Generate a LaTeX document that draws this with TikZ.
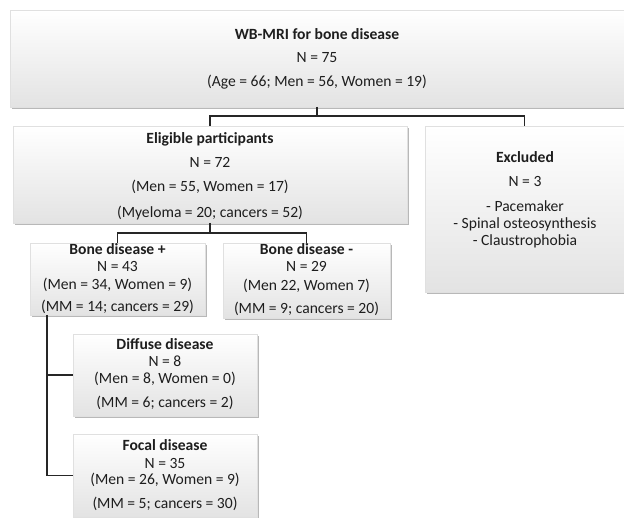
\documentclass[tikz,border=0pt]{standalone}
\usepackage{fontspec}
\setmainfont{Carlito}
\usetikzlibrary{shadows,calc}
\definecolor{txtc}{HTML}{1E1E1E}
\tikzset{
  box/.style={rectangle, inner sep=0pt, outer sep=0pt, draw=black!12, line width=0.4pt,
    top color=white, bottom color=black!11,
    drop shadow={shadow xshift=1.6pt, shadow yshift=-2.2pt, fill=black, opacity=0.28}},
  txt/.style={anchor=base, inner sep=0pt, outer sep=0pt, text=txtc,
    font=\fontsize{15.6}{18}\selectfont},
  ttl/.style={txt, font=\fontsize{15.6}{18}\selectfont\bfseries},
  conn/.style={draw=black!85, line width=1.1pt}
}
\begin{document}
\begin{tikzpicture}[x=1pt,y=1pt]
\useasboundingbox (0,0) rectangle (624,-518);
% boxes
\node[box, minimum width=614, minimum height=97] (top) at (317,-58.5) {};
\node[box, minimum width=394, minimum height=97] (elig) at (210,-174.5) {};
\node[box, minimum width=199, minimum height=166] (excl) at (524.5,-209) {};
\node[box, minimum width=175, minimum height=72] (bplus) at (117.5,-279) {};
\node[box, minimum width=167, minimum height=75] (bminus) at (306.5,-280.5) {};
\node[box, minimum width=184, minimum height=82] (diff) at (165,-375) {};
\node[box, minimum width=184, minimum height=83] (focal) at (165,-475.5) {};
% top text
\node[ttl] (top1) at (317,-40) {WB-MRI for bone disease};
\node[txt] (top2) at (317,-63) {N = 75};
\node[txt] (top3) at (317,-87) {(Age = 66; Men = 56, Women = 19)};
% eligible
\node[ttl] (el1) at (210,-144) {Eligible participants};
\node[txt] (el2) at (210,-168) {N = 72};
\node[txt] (el3) at (210,-192) {(Men = 55, Women = 17)};
\node[txt] (el4) at (210,-218) {(Myeloma = 20; cancers = 52)};
% excluded
\node[ttl] (ex1) at (525,-163) {Excluded};
\node[txt] (ex2) at (525,-187) {N = 3};
\node[txt] (ex3) at (525,-212) {- Pacemaker};
\node[txt] (ex4) at (525,-229) {- Spinal osteosynthesis};
\node[txt] (ex5) at (525,-246) {- Claustrophobia};
% bone +
\node[ttl] (bp1) at (117.5,-255) {Bone disease +};
\node[txt] (bp2) at (117.5,-272) {N = 43};
\node[txt] (bp3) at (117.5,-290) {(Men = 34, Women = 9)};
\node[txt] (bp4) at (117.5,-312) {(MM = 14; cancers = 29)};
% bone -
\node[ttl] (bm1) at (306.5,-255) {Bone disease -};
\node[txt] (bm2) at (306.5,-272) {N = 29};
\node[txt] (bm3) at (306.5,-291) {(Men 22, Women 7)};
\node[txt] (bm4) at (306.5,-314) {(MM = 9; cancers = 20)};
% diffuse
\node[ttl] (df1) at (165,-350) {Diffuse disease};
\node[txt] (df2) at (165,-367) {N = 8};
\node[txt] (df3) at (165,-384) {(Men = 8, Women = 0)};
\node[txt] (df4) at (165,-408) {(MM = 6; cancers = 2)};
% focal
\node[ttl] (fc1) at (165,-450) {Focal disease};
\node[txt] (fc2) at (165,-468) {N = 35};
\node[txt] (fc3) at (165,-485) {(Men = 26, Women = 9)};
\node[txt] (fc4) at (165,-508) {(MM = 5; cancers = 30)};
% connectors
\coordinate (j1) at ($(top.south)+(0,-9)$);
\draw[conn] (top.south) -- (j1);
\draw[conn] (elig.north) |- (j1) -| (excl.north);
\coordinate (j2) at ($(elig.south)+(0,-10)$);
\draw[conn] (elig.south) -- (j2);
\draw[conn] (bplus.north) |- (j2) -| (bminus.north);
\coordinate (t) at (47,-315);
\draw[conn] (t |- bplus.south) -- (t |- focal.west) -- (focal.west);
\draw[conn] (t |- diff.west) -- (diff.west);
\end{tikzpicture}
\end{document}
